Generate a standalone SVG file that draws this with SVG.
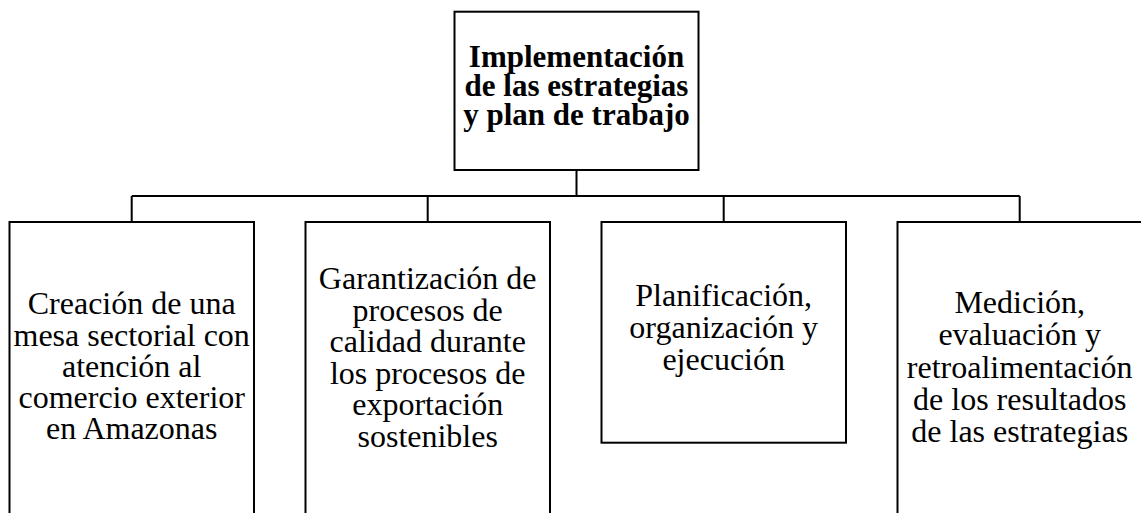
<svg xmlns="http://www.w3.org/2000/svg" width="1141" height="513" viewBox="0 0 1141 513">
<style>
.box{fill:#fff;stroke:#000;stroke-width:2}
.conn{fill:none;stroke:#000;stroke-width:2}
.t{font-family:"Liberation Serif","Times New Roman",serif;font-size:32px;fill:#000;text-anchor:middle}
.b{font-family:"Liberation Serif","Times New Roman",serif;font-size:31px;font-weight:bold;fill:#000;text-anchor:middle}
</style>
<rect width="1141" height="513" fill="#fff"/>
<g id="connectors">
<path class="conn" d="M576.5 170 V196 M131.7 196 H1019.7 M131.7 196 V222 M427.7 196 V222 M723.7 196 V222 M1019.7 196 V222"/>
</g>
<g id="root">
<rect class="box" x="454.5" y="11.7" width="244" height="158.3"/>
<text class="b" x="576.5" y="66.5">Implementación</text>
<text class="b" x="576.5" y="95.8">de las estrategias</text>
<text class="b" x="576.5" y="125">y plan de trabajo</text>
</g>
<g id="node1">
<rect class="box" x="9.5" y="222" width="244.5" height="300"/>
<text class="t" x="131.7" y="314">Creación de una</text>
<text class="t" x="131.7" y="345.5">mesa sectorial con</text>
<text class="t" x="131.7" y="376.5">atención al</text>
<text class="t" x="131.7" y="407.5">comercio exterior</text>
<text class="t" x="131.7" y="438.5">en Amazonas</text>
</g>
<g id="node2">
<rect class="box" x="305.5" y="222" width="244.5" height="300"/>
<text class="t" x="427.7" y="289">Garantización de</text>
<text class="t" x="427.7" y="320.6">procesos de</text>
<text class="t" x="427.7" y="352.2">calidad durante</text>
<text class="t" x="427.7" y="383.8">los procesos de</text>
<text class="t" x="427.7" y="415.4">exportación</text>
<text class="t" x="427.7" y="447">sostenibles</text>
</g>
<g id="node3">
<rect class="box" x="601.5" y="222" width="244.5" height="220.7"/>
<text class="t" x="723.7" y="306">Planificación,</text>
<text class="t" x="723.7" y="338">organización y</text>
<text class="t" x="723.7" y="370">ejecución</text>
</g>
<g id="node4">
<rect class="box" x="897.5" y="222" width="244.5" height="300"/>
<text class="t" x="1019.7" y="313">Medición,</text>
<text class="t" x="1019.7" y="345">evaluación y</text>
<text class="t" x="1019.7" y="377.5">retroalimentación</text>
<text class="t" x="1019.7" y="410">de los resultados</text>
<text class="t" x="1019.7" y="442">de las estrategias</text>
</g>
</svg>
